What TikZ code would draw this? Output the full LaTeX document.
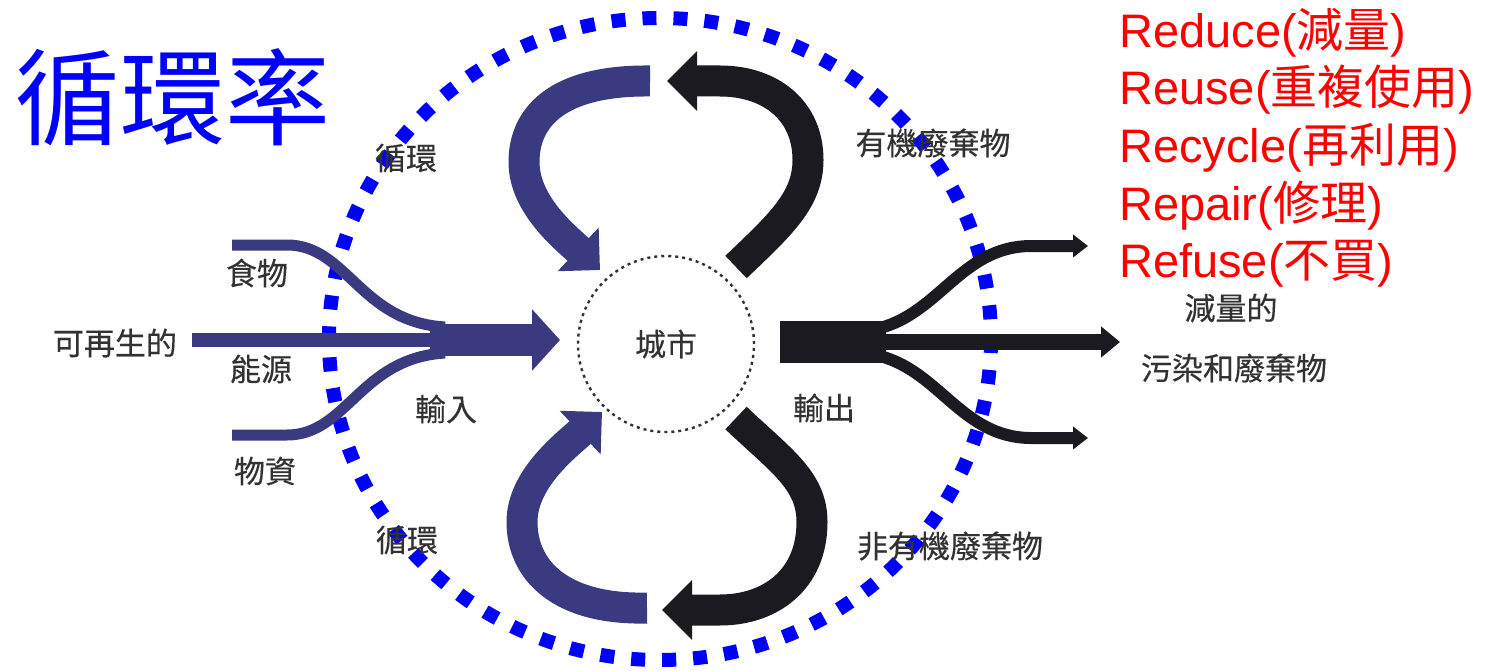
\documentclass[tikz,border=0pt]{standalone}
\usepackage{fontspec}
\setmainfont{Liberation Sans}
\newfontfamily\cjk{Noto Sans CJK TC}
\newfontfamily\cjklbl[FakeBold=0.4]{Noto Sans CJK TC}
\usetikzlibrary{arrows.meta}
\definecolor{navy}{RGB}{58,58,128}
\definecolor{ink}{RGB}{26,26,32}
\definecolor{labelgray}{RGB}{50,50,50}
\definecolor{dotblue}{RGB}{0,0,255}
\definecolor{redtxt}{RGB}{255,0,0}
\newcommand\zh[1]{{\cjk #1}}
\begin{document}
\begin{tikzpicture}[x=1pt,y=-1pt,
  lbl/.style={font=\cjklbl\fontsize{31}{36}\selectfont, text=labelgray, inner sep=0pt},
  rlist/.style={font=\fontsize{47}{54}\selectfont, text=redtxt, inner sep=0pt, anchor=base west},
  band/.style={line width=31pt},
  bigtip/.style={-{Triangle[width=58pt,length=30pt]}},
  midtip/.style={-{Triangle[width=30pt,length=19pt]}},
  smalltip/.style={-{Triangle[width=22pt,length=15pt]}}]
\useasboundingbox (0,0) rectangle (1485,671);

% big blue dotted circle
\draw[dotblue, line width=14pt, dash pattern=on 14pt off 17pt] (660,339) ellipse [x radius=331, y radius=321];

% city circle
\node[draw=labelgray, line width=2.4pt, dash pattern=on 3pt off 4pt, circle,
  minimum size=176pt, inner sep=0pt] (city) at (666,344) {};
\node[lbl] (citytxt) at (city.center) {城市};

% input arrows
\coordinate (inA) at (192,340);
\coordinate (inB) at (430,340);
\coordinate (inTip) at (560,340);
\coordinate (foodS) at (232,245);
\coordinate (foodE) at (445,327);
\coordinate (matS) at (232,435);
\coordinate (matE) at (445,353);
\draw[navy, line width=14pt] (inA) -- (inB);
\draw[navy, line width=11pt] (foodS) -- ++(55,0) .. controls +(60,0) and (360,322) .. (foodE);
\draw[navy, line width=11pt] (matS) -- ++(55,0) .. controls +(60,0) and (360,358) .. (matE);
\draw[navy, line width=32pt, -{Triangle[width=60pt,length=28pt]}] (inB) -- (inTip);

% output arrows
\coordinate (outB) at (884,342);
\coordinate (outMid) at (1120,342);
\coordinate (outUp) at (1088,246);
\coordinate (outDn) at (1088,438);
\fill[ink] (780,321) rectangle (886,363);
\draw[ink, line width=12pt, smalltip] (880,328) .. controls (940,312) and (962,247) .. (1030,246) -- (outUp);
\draw[ink, line width=12pt, smalltip] (880,356) .. controls (940,372) and (962,437) .. (1030,438) -- (outDn);
\draw[ink, line width=16pt, midtip] (outB) -- (outMid);

% top-left recycle (blue)
\coordinate (tlS) at (650,81);
\coordinate (tlT) at (600,270);
\draw[navy, band, bigtip] (tlS) .. controls (556,80) and (524,118) .. (524,162)
  .. controls (524,205) and (566,238) .. (tlT);

% top-right organic waste (black)
\coordinate (trS) at (736,267);
\coordinate (trT) at (667,81);
\draw[ink, band, bigtip] (trS) .. controls (780,225) and (808,200) .. (808,160)
  .. controls (808,110) and (770,81) .. (720,81) -- (trT);

% bottom-left recycle (blue)
\coordinate (blS) at (647,608);
\coordinate (blT) at (602,412);
\draw[navy, band, bigtip] (blS) .. controls (560,610) and (522,570) .. (522,522)
  .. controls (522,478) and (568,444) .. (blT);

% bottom-right inorganic waste (black)
\coordinate (brS) at (736,418);
\coordinate (brT) at (662,610);
\draw[ink, band, bigtip] (brS) .. controls (780,460) and (812,480) .. (812,522)
  .. controls (812,580) and (770,610) .. (720,610) -- (brT);

% labels
\node[font=\cjk\fontsize{105}{110}\selectfont, text=dotblue, inner sep=0pt] (title) at (173,97) {循環率};
\node[lbl] (cyc1) at (406,158) {循環};
\node[lbl] (org) at (933,143) {有機廢棄物};
\node[lbl] (food) at (257,273) {食物};
\node[lbl] (renew) at (115,343) {可再生的};
\node[lbl] (energy) at (261,369) {能源};
\node[lbl] (input) at (446,409) {輸入};
\node[lbl] (mat) at (265,471) {物資};
\node[lbl] (output) at (824,408) {輸出};
\node[lbl] (red1) at (1231,308) {減量的};
\node[lbl] (red2) at (1234,368) {污染和廢棄物};
\node[lbl] (cyc2) at (407,540) {循環};
\node[lbl] (inorg) at (950,546) {非有機廢棄物};

% red list
\node[rlist] (r1) at (1119,48) {Reduce(\zh{減量})};
\node[rlist] (r2) at (1119,105) {Reuse(\zh{重複使用})};
\node[rlist] (r3) at (1119,163) {Recycle(\zh{再利用})};
\node[rlist] (r4) at (1119,220) {Repair(\zh{修理})};
\node[rlist] (r5) at (1119,277) {Refuse(\zh{不買})};
\end{tikzpicture}
\end{document}
